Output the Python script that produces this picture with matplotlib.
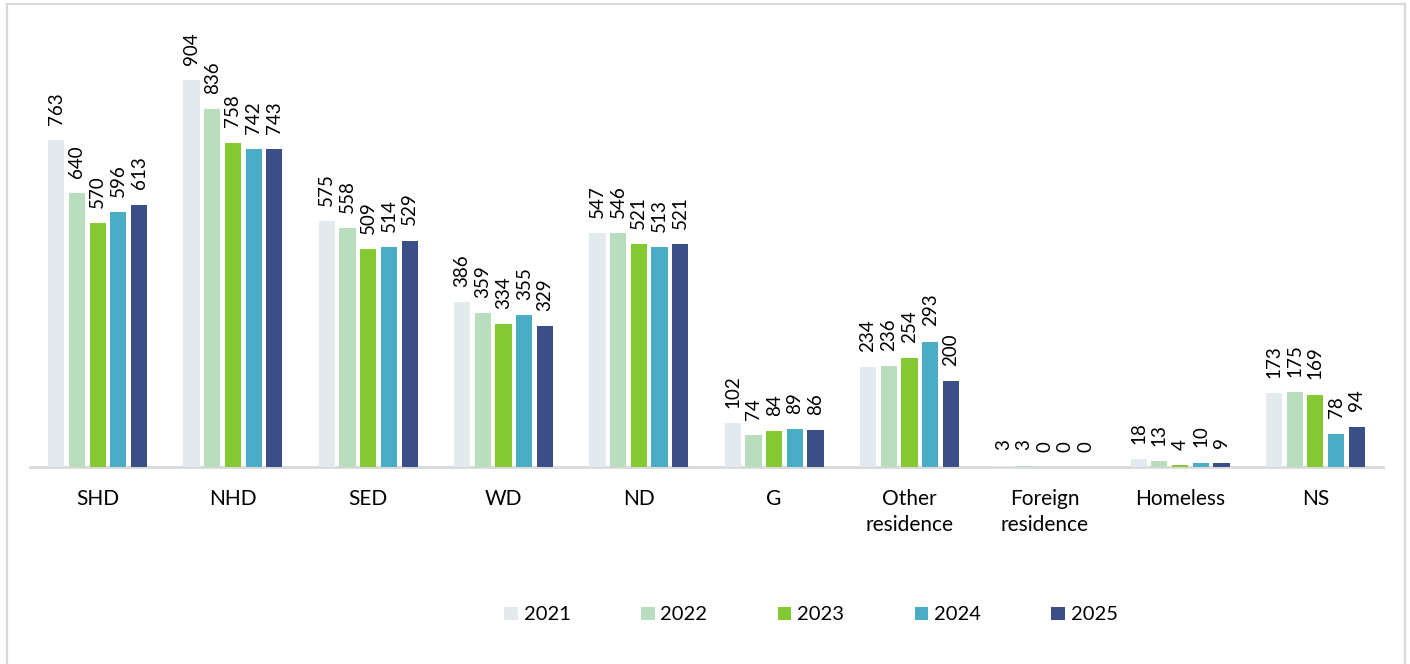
import matplotlib
matplotlib.use("Agg")
import matplotlib.pyplot as plt
from matplotlib.patches import Rectangle
import numpy as np

plt.rcParams['font.family'] = ['Lato', 'DejaVu Sans']

categories = ["SHD", "NHD", "SED", "WD", "ND", "G", "Other\nresidence",
              "Foreign\nresidence", "Homeless", "NS"]
years = ["2021", "2022", "2023", "2024", "2025"]
values = {
    "2021": [763, 904, 575, 386, 547, 102, 234, 3, 18, 173],
    "2022": [640, 836, 558, 359, 546, 74, 236, 3, 13, 175],
    "2023": [570, 758, 509, 334, 521, 84, 254, 0, 4, 169],
    "2024": [596, 742, 514, 355, 513, 89, 293, 0, 10, 78],
    "2025": [613, 743, 529, 329, 521, 86, 200, 0, 9, 94],
}
colors = ["#E2EAEE", "#B8DEBE", "#84C933", "#4BACC6", "#3B4E87"]

W, H = 1410, 664
fig = plt.figure(figsize=(W / 100, H / 100), dpi=100)

# outer border
fig.patches.append(Rectangle((7 / W, -0.01), (1405 - 7) / W, (H - 4) / H + 0.01,
                             transform=fig.transFigure, fill=False,
                             edgecolor="#D9D9D9", linewidth=1.6))

ax = fig.add_axes([30 / W, (H - 467) / H, (1383 - 30) / W, (467 - 39) / H])
x = np.arange(len(categories))
step = 0.153
bw = 0.12
for i, y in enumerate(years):
    pos = x + (i - 2) * step
    ax.bar(pos, values[y], width=bw, color=colors[i], label=y, zorder=2)
    for p, v in zip(pos, values[y]):
        ax.annotate(str(v), (p, v), xytext=(0, 11), textcoords="offset points",
                    rotation=90, ha="center", va="bottom",
                    fontsize=13.5, color="#000000")

ax.set_xlim(-0.5, len(categories) - 0.5)
ax.set_ylim(0, 1000)
ax.set_yticks([])
ax.set_xticks(x)
ax.set_xticklabels(categories, fontsize=15, color="#000000", linespacing=1.35)
ax.tick_params(axis="x", length=0, pad=16)
for s in ["top", "right", "left"]:
    ax.spines[s].set_visible(False)
ax.spines["bottom"].set_color("#D9D9D9")
ax.spines["bottom"].set_linewidth(2)
ax.spines["bottom"].set_zorder(1)

handles, labels = ax.get_legend_handles_labels()
fig.legend(handles, labels, loc="center", bbox_to_anchor=(811 / W, (H - 615) / H),
           ncol=5, frameon=False, fontsize=14.5, handlelength=0.68, handleheight=0.68,
           handletextpad=0.28, columnspacing=3.5)

fig.savefig("out.png", dpi=100)
